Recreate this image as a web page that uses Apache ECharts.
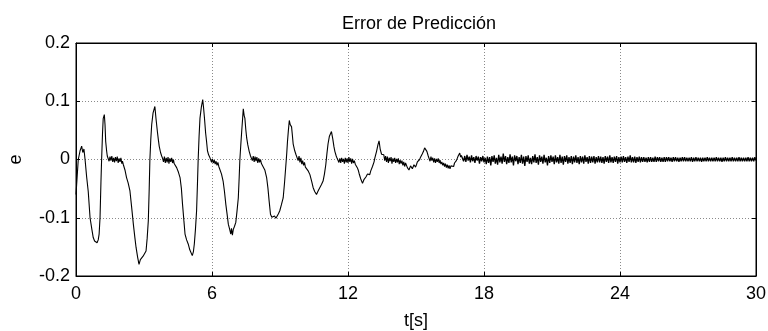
<!DOCTYPE html>
<html>
<head>
<meta charset="utf-8">
<script src="https://cdn.jsdelivr.net/npm/echarts@6/dist/echarts.min.js"></script>
<style>
  html, body { margin: 0; padding: 0; background: #fff; }
  #chart { width: 768px; height: 331px; }
</style>
</head>
<body>
<div id="chart"></div>
<script>
// eje x: tiempo [s], eje y: error e
const xTicks = [0, 6, 12, 18, 24, 30];
const yTicks = [-0.2, -0.1, 0, 0.1, 0.2];

// transitorio 0-17 s, leído punto a punto: [t, e]
const shapeT = [
  0.00, 0.05, 0.10, 0.18, 0.25, 0.30, 0.35, 0.40, 0.47, 0.54, 0.62, 0.70, 0.76, 0.82, 0.88, 0.93, 0.98, 1.02, 1.06, 1.10,
  1.13, 1.17, 1.20, 1.25, 1.28, 1.31, 1.35, 1.38, 1.42, 1.46, 1.50, 1.54, 1.58, 1.62, 1.66, 1.70, 1.74, 1.78, 1.82, 1.86,
  1.90, 1.94, 1.98, 2.02, 2.05, 2.09, 2.16, 2.23, 2.30, 2.38, 2.45, 2.53, 2.60, 2.65, 2.72, 2.78, 2.84, 2.90, 2.96, 3.02,
  3.09, 3.14, 3.19, 3.23, 3.26, 3.30, 3.34, 3.40, 3.48, 3.53, 3.59, 3.63, 3.67, 3.73, 3.78, 3.82, 3.86, 3.90, 3.94, 3.98,
  4.02, 4.06, 4.10, 4.14, 4.18, 4.22, 4.26, 4.30, 4.33, 4.36, 4.44, 4.52, 4.59, 4.65, 4.70, 4.76, 4.81, 4.88, 4.95, 5.02,
  5.08, 5.13, 5.18, 5.22, 5.27, 5.32, 5.36, 5.39, 5.43, 5.47, 5.53, 5.59, 5.63, 5.67, 5.72, 5.76, 5.80, 5.85, 5.90, 5.94,
  5.98, 6.02, 6.06, 6.10, 6.14, 6.18, 6.22, 6.26, 6.30, 6.35, 6.42, 6.49, 6.55, 6.61, 6.67, 6.72, 6.78, 6.83, 6.86, 6.90,
  6.94, 6.99, 7.05, 7.10, 7.16, 7.20, 7.23, 7.27, 7.31, 7.35, 7.38, 7.42, 7.45, 7.49, 7.53, 7.58, 7.64, 7.70, 7.74, 7.78,
  7.82, 7.86, 7.90, 7.94, 7.98, 8.02, 8.06, 8.10, 8.14, 8.18, 8.22, 8.26, 8.33, 8.41, 8.47, 8.52, 8.58, 8.64, 8.70, 8.76,
  8.82, 8.87, 8.93, 8.99, 9.06, 9.14, 9.20, 9.26, 9.30, 9.33, 9.37, 9.41, 9.45, 9.51, 9.55, 9.58, 9.65, 9.70, 9.76, 9.80,
  9.84, 9.88, 9.92, 9.96, 10.00, 10.04, 10.08, 10.12, 10.17, 10.25, 10.32, 10.40, 10.46, 10.53, 10.61, 10.68, 10.76, 10.83, 10.90, 10.96,
  11.02, 11.07, 11.12, 11.18, 11.27, 11.33, 11.38, 11.42, 11.48, 11.52, 11.56, 11.60, 11.64, 11.68, 11.72, 11.76, 11.80, 11.84, 11.88, 11.92,
  11.96, 12.00, 12.04, 12.08, 12.12, 12.16, 12.20, 12.24, 12.28, 12.32, 12.37, 12.41, 12.45, 12.49, 12.52, 12.56, 12.60, 12.64, 12.67, 12.71,
  12.75, 12.79, 12.82, 12.86, 12.90, 12.93, 12.96, 13.00, 13.04, 13.08, 13.11, 13.15, 13.18, 13.22, 13.26, 13.32, 13.37, 13.42, 13.48, 13.54,
  13.58, 13.62, 13.66, 13.70, 13.74, 13.78, 13.82, 13.86, 13.90, 13.94, 13.98, 14.02, 14.06, 14.10, 14.14, 14.18, 14.22, 14.26, 14.30, 14.34,
  14.38, 14.42, 14.46, 14.50, 14.54, 14.58, 14.62, 14.65, 14.69, 14.72, 14.76, 14.80, 14.84, 14.87, 14.91, 14.95, 14.98, 15.02, 15.06, 15.09,
  15.13, 15.16, 15.20, 15.24, 15.28, 15.33, 15.38, 15.43, 15.48, 15.54, 15.58, 15.62, 15.66, 15.70, 15.74, 15.78, 15.82, 15.86, 15.90, 15.94,
  15.98, 16.02, 16.06, 16.10, 16.14, 16.18, 16.22, 16.26, 16.30, 16.34, 16.38, 16.42, 16.46, 16.50, 16.54, 16.58, 16.62, 16.66, 16.70, 16.74,
  16.78, 16.82, 16.86, 16.90, 16.93, 16.97, 17.00
];
const shapeE = [
  -0.060, -0.030, 0.000, 0.015, 0.023, 0.012, 0.018, 0.000, -0.030, -0.055, -0.100, -0.120, -0.134, -0.140, -0.137, -0.143, -0.138, -0.128, -0.100, -0.040,
  0.000, 0.045, 0.070, 0.077, 0.060, 0.031, 0.015, 0.006, 0.004, -0.003, 0.005, -0.002, 0.006, -0.004, 0.003, -0.005, 0.004, -0.003, 0.005, -0.006,
  0.002, -0.004, 0.003, -0.007, -0.003, -0.009, -0.018, -0.031, -0.040, -0.054, -0.080, -0.111, -0.135, -0.151, -0.168, -0.180, -0.172, -0.175, -0.166, -0.163,
  -0.157, -0.135, -0.105, -0.050, 0.000, 0.035, 0.060, 0.080, 0.091, 0.070, 0.048, 0.035, 0.023, 0.012, 0.006, 0.002, -0.004, 0.005, -0.006, 0.003,
  -0.005, 0.004, -0.007, 0.002, -0.004, 0.003, -0.006, 0.000, -0.007, -0.008, -0.014, -0.022, -0.031, -0.050, -0.077, -0.105, -0.128, -0.138, -0.145, -0.155,
  -0.158, -0.165, -0.158, -0.145, -0.120, -0.088, -0.040, 0.000, 0.040, 0.071, 0.090, 0.103, 0.088, 0.070, 0.045, 0.031, 0.015, 0.008, 0.004, 0.002,
  -0.005, 0.001, -0.006, -0.001, -0.008, -0.003, -0.010, -0.005, -0.012, -0.014, -0.025, -0.037, -0.055, -0.077, -0.095, -0.111, -0.120, -0.128, -0.118, -0.130,
  -0.120, -0.115, -0.108, -0.090, -0.066, -0.030, 0.000, 0.025, 0.048, 0.070, 0.087, 0.075, 0.071, 0.052, 0.037, 0.025, 0.014, 0.006, 0.008, -0.002,
  0.006, -0.004, 0.005, -0.003, 0.004, -0.006, 0.002, -0.005, 0.000, -0.007, -0.004, -0.009, -0.018, -0.031, -0.050, -0.071, -0.094, -0.099, -0.100, -0.097,
  -0.101, -0.098, -0.093, -0.088, -0.078, -0.066, -0.040, -0.009, 0.012, 0.031, 0.050, 0.067, 0.060, 0.056, 0.040, 0.027, 0.015, 0.009, 0.010, -0.002,
  0.006, -0.005, 0.003, -0.008, -0.002, -0.010, -0.005, -0.013, -0.014, -0.020, -0.026, -0.038, -0.048, -0.055, -0.060, -0.054, -0.048, -0.043, -0.037, -0.025,
  -0.009, 0.010, 0.027, 0.040, 0.048, 0.035, 0.022, 0.014, 0.006, 0.002, 0.004, -0.005, 0.002, -0.006, 0.003, -0.004, 0.001, -0.007, 0.003, -0.005,
  0.002, -0.006, 0.004, -0.004, 0.002, -0.007, 0.001, -0.006, -0.002, -0.008, -0.009, -0.014, -0.018, -0.024, -0.026, -0.033, -0.035, -0.041, -0.040, -0.034,
  -0.036, -0.030, -0.031, -0.025, -0.028, -0.022, -0.026, -0.020, -0.018, -0.012, -0.009, -0.004, 0.002, 0.008, 0.014, 0.025, 0.032, 0.018, 0.009, 0.006,
  0.008, -0.002, 0.006, -0.004, 0.005, -0.006, 0.003, -0.003, 0.004, -0.007, 0.002, -0.004, 0.003, -0.006, 0.001, -0.005, 0.002, -0.008, -0.001, -0.007,
  -0.002, -0.010, -0.004, -0.012, -0.006, -0.008, -0.014, -0.013, -0.018, -0.017, -0.011, -0.012, -0.016, -0.014, -0.009, -0.011, -0.013, -0.009, -0.004, -0.006,
  -0.001, 0.000, 0.004, 0.006, 0.010, 0.014, 0.020, 0.023, 0.014, 0.006, 0.004, -0.003, 0.005, -0.002, 0.003, -0.005, 0.002, -0.006, 0.001, -0.004,
  0.002, -0.006, -0.001, -0.008, -0.004, -0.010, -0.006, -0.012, -0.007, -0.014, -0.009, -0.015, -0.010, -0.016, -0.011, -0.014, -0.008, -0.012, -0.006, -0.008,
  -0.002, 0.002, 0.006, 0.008, 0.011, 0.004, 0.007
];

// régimen 17-30 s: ruido muestreado cada tailDt segundos
const tailT0 = 17.05;
const tailDt = 0.05;
const tailE = [
  0.007, -0.003, 0.006, -0.004, 0.008, -0.002, 0.005, -0.005, 0.007, -0.003, 0.004, -0.006, 0.006, -0.002, 0.005, -0.007, 0.004, -0.003, 0.006, -0.005,
  0.003, -0.008, 0.005, -0.006, 0.004, -0.010, 0.006, -0.004, 0.007, -0.007, 0.003, -0.009, 0.008, -0.005, 0.005, -0.007, 0.010, -0.004, 0.006, -0.008,
  0.004, -0.006, 0.009, -0.005, 0.005, -0.010, 0.007, -0.003, 0.006, -0.008, 0.004, -0.006, 0.008, -0.007, 0.005, -0.011, 0.006, -0.004, 0.007, -0.007,
  0.003, -0.008, 0.006, -0.005, 0.009, -0.006, 0.004, -0.009, 0.007, -0.004, 0.005, -0.007, 0.008, -0.005, 0.003, -0.010, 0.006, -0.006, 0.007, -0.004,
  0.005, -0.008, 0.007, -0.005, 0.004, -0.007, 0.008, -0.006, 0.005, -0.009, 0.006, -0.004, 0.007, -0.007, 0.004, -0.006, 0.006, -0.008, 0.005, -0.005,
  0.007, -0.006, 0.004, -0.008, 0.006, -0.005, 0.005, -0.007, 0.007, -0.004, 0.004, -0.007, 0.006, -0.006, 0.005, -0.005, 0.006, -0.007, 0.004, -0.005,
  0.006, -0.005, 0.005, -0.006, 0.004, -0.007, 0.006, -0.004, 0.005, -0.006, 0.007, -0.005, 0.004, -0.006, 0.005, -0.004, 0.006, -0.007, 0.004, -0.005,
  0.005, -0.005, 0.006, -0.004, 0.004, -0.006, 0.005, -0.004, 0.007, -0.005, 0.004, -0.005, 0.005, -0.006, 0.004, -0.004, 0.005, -0.005, 0.004, -0.004,
  0.004, -0.004, 0.003, -0.005, 0.004, -0.004, 0.004, -0.004, 0.003, -0.004, 0.005, -0.004, 0.004, -0.003, 0.004, -0.004, 0.003, -0.004, 0.004, -0.004,
  0.004, -0.003, 0.004, -0.003, 0.003, -0.004, 0.004, -0.003, 0.004, -0.003, 0.003, -0.004, 0.003, -0.003, 0.004, -0.003, 0.004, -0.003, 0.003, -0.003,
  0.003, -0.003, 0.004, -0.004, 0.003, -0.003, 0.004, -0.003, 0.003, -0.003, 0.003, -0.004, 0.003, -0.003, 0.003, -0.003, 0.004, -0.003, 0.003, -0.003,
  0.003, -0.003, 0.003, -0.003, 0.004, -0.003, 0.003, -0.003, 0.003, -0.004, 0.003, -0.003, 0.004, -0.003, 0.003, -0.003, 0.003, -0.003, 0.004, -0.003,
  0.003, -0.003, 0.003, -0.003, 0.004, -0.003, 0.003, -0.003, 0.003, -0.003, 0.003, -0.003, 0.004, -0.003, 0.003, -0.003, 0.003, -0.003, 0.004, -0.002
];

const FONT = "'Liberation Sans', Arial, sans-serif";

const shapePoints = shapeT.map((t, i) => [t, shapeE[i]]);
const tailPoints = [[17.00, 0.007]];
tailE.forEach((e, i) => tailPoints.push([+(tailT0 + i * tailDt).toFixed(2), e]));

const chart = echarts.init(document.getElementById('chart'));

const tickStyle = { show: true, inside: true, length: 4, lineStyle: { color: '#000', width: 1 } };
const lineStyle = { show: true, onZero: false, lineStyle: { color: '#000', width: 1 } };
const gridLine = { show: true, lineStyle: { color: '#8a8a8a', width: 1, type: [1, 2] } };

chart.setOption({
  animation: false,
  title: {
    text: 'Error de Predicción',
    left: 414,
    top: 10,
    textAlign: 'center',
    textStyle: { fontFamily: FONT, fontSize: 18, fontWeight: 'normal', color: '#000' }
  },
  grid: {
    left: 76, right: 12, top: 43, bottom: 55,
    outerBoundsMode: 'none', containLabel: false,
    show: true, borderColor: '#000', borderWidth: 1
  },
  xAxis: [
    {
      type: 'value', min: xTicks[0], max: xTicks[xTicks.length - 1], interval: 6,
      name: 't[s]', nameLocation: 'middle', nameGap: 36,
      nameTextStyle: { fontFamily: FONT, fontSize: 18, color: '#000' },
      axisLine: lineStyle, axisTick: tickStyle,
      axisLabel: { fontFamily: FONT, fontSize: 18, color: '#000', margin: 9 },
      splitLine: gridLine
    },
    {
      type: 'value', position: 'top', min: xTicks[0], max: xTicks[xTicks.length - 1], interval: 6,
      axisLine: lineStyle, axisTick: tickStyle, axisLabel: { show: false }, splitLine: { show: false }
    }
  ],
  yAxis: [
    {
      type: 'value', min: yTicks[0], max: yTicks[yTicks.length - 1], interval: 0.1,
      name: 'e', nameLocation: 'middle', nameGap: 51, nameRotate: 90,
      nameTextStyle: { fontFamily: FONT, fontSize: 18, color: '#000' },
      axisLine: lineStyle, axisTick: tickStyle,
      axisLabel: { fontFamily: FONT, fontSize: 18, color: '#000', margin: 6 },
      splitLine: gridLine
    },
    {
      type: 'value', position: 'right', min: yTicks[0], max: yTicks[yTicks.length - 1], interval: 0.1,
      axisLine: lineStyle, axisTick: tickStyle, axisLabel: { show: false }, splitLine: { show: false }
    }
  ],
  series: [
    {
      type: 'line',
      data: shapePoints,
      showSymbol: false,
      symbol: 'none',
      sampling: null,
      lineStyle: { color: '#000', width: 1.1 },
      silent: true
    },
    {
      type: 'line',
      data: tailPoints,
      showSymbol: false,
      symbol: 'none',
      sampling: null,
      lineStyle: { color: '#000', width: 1.3 },
      silent: true
    }
  ]
});
</script>
</body>
</html>
